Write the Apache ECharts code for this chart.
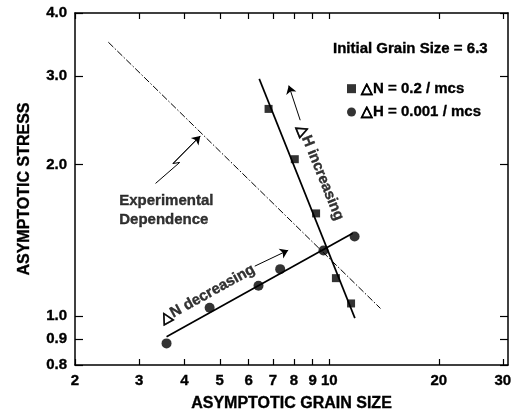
<!DOCTYPE html>
<html>
<head>
<meta charset="utf-8">
<script src="https://cdn.jsdelivr.net/npm/echarts@6/dist/echarts.min.js"></script>
<style>
html,body{margin:0;padding:0;background:#fff;}
#chart{width:520px;height:418px;}
</style>
</head>
<body>
<div id="chart"></div>
<script>
// Tick values on the two logarithmic axes
const grainTicks = [2, 3, 4, 5, 6, 7, 8, 9, 10, 20, 30];
const stressTicks = [0.8, 0.9, 1.0, 2.0, 3.0, 4.0];

// Series names
const squareName = '\u25B3N = 0.2 / mcs';
const circleName = '\u25B3H = 0.001 / mcs';

// Simulation results: [asymptotic grain size, asymptotic stress]
const squarePoints = [[6.81, 2.58], [8.04, 2.05], [9.2, 1.60], [10.43, 1.19], [11.48, 1.06]];
const circlePoints = [[3.57, 0.883], [4.69, 1.039], [6.39, 1.149], [7.33, 1.24], [9.64, 1.35], [11.74, 1.44]];

// Fitted lines through each set of results
const squareFit = [[6.42, 2.96], [11.76, 0.991]];
const circleFit = [[3.57, 0.910], [11.6, 1.461]];

// Experimental dependence
const experimentalLine = [[2.47, 3.50], [13.83, 1.036]];

// Callout pointer (zig-zag) and direction arrows, in data units
const pointerPath = [[3.33, 1.835], [3.88, 2.02], [3.72, 2.01], [4.42, 2.28]];
const hArrow = [[8.32, 2.45], [7.74, 2.87]];
const nArrow = [[6.24, 1.257], [7.71, 1.352]];

// Text notes: anchor, text, rotation
const noteTexts = ['Experimental\nDependence', '\u25B3H increasing', '\u25B3N decreasing'];
const noteAnchors = [[2.646, 1.619], [9.45, 1.93], [4.62, 1.106]];
const noteRotations = [0, -68, 29];
const notePositions = ['right', 'inside', 'inside'];

const headerText = 'Initial Grain Size = 6.3';

const FONT = '"Liberation Sans", Arial, Helvetica, sans-serif';
const boldText = {
  fontFamily: FONT, fontWeight: 'bold', fontSize: 15, color: '#000',
  textBorderColor: '#000', textBorderWidth: 0.35
};
const nameText = Object.assign({}, boldText, { fontSize: 16 });

const chart = echarts.init(document.getElementById('chart'), null, { renderer: 'canvas' });

const xBase = {
  type: 'log', min: 2, max: 31, logBase: 10,
  splitLine: { show: false }, minorTick: { show: false }, minorSplitLine: { show: false },
  axisLine: { show: true, onZero: false, lineStyle: { color: '#000', width: 1.5 } },
  axisTick: { show: true, inside: true, length: 6, customValues: grainTicks, lineStyle: { color: '#000', width: 1.2 } }
};
const yBase = {
  type: 'log', min: 0.8, max: 4.0, logBase: 10,
  splitLine: { show: false }, minorTick: { show: false }, minorSplitLine: { show: false },
  axisLine: { show: true, onZero: false, lineStyle: { color: '#000', width: 1.5 } },
  axisTick: { show: true, inside: true, length: 8, customValues: stressTicks, lineStyle: { color: '#000', width: 1.2 } }
};

const option = {
  animation: false,
  backgroundColor: '#fff',
  title: {
    text: headerText, left: 333, top: 41, padding: 0,
    textStyle: boldText
  },
  legend: {
    orient: 'vertical', left: 347, top: 81, padding: 0,
    itemWidth: 9, itemHeight: 9, itemGap: 8, itemTextGap: 10,
    selectedMode: false,
    textStyle: boldText,
    data: [{ name: squareName, icon: 'rect' }, { name: circleName, icon: 'circle' }]
  },
  grid: { left: 75, right: 12, top: 13, bottom: 53, containLabel: false, outerBoundsMode: 'none' },
  xAxis: [
    Object.assign({}, xBase, {
      position: 'bottom',
      name: 'ASYMPTOTIC GRAIN SIZE', nameLocation: 'middle', nameGap: 31,
      nameTextStyle: nameText,
      axisLabel: Object.assign({
        show: true, margin: 8, customValues: grainTicks,
        formatter: v => String(Math.round(v))
      }, boldText)
    }),
    Object.assign({}, xBase, { position: 'top', axisLabel: { show: false } })
  ],
  yAxis: [
    Object.assign({}, yBase, {
      position: 'left',
      name: 'ASYMPTOTIC STRESS', nameLocation: 'middle', nameGap: 42, nameRotate: 90,
      nameTextStyle: nameText,
      axisLabel: Object.assign({
        show: true, margin: 8, customValues: stressTicks,
        formatter: v => Number(v).toFixed(1)
      }, boldText)
    }),
    Object.assign({}, yBase, { position: 'right', axisLabel: { show: false } })
  ],
  series: [
    {
      name: 'Experimental', type: 'line', data: experimentalLine,
      showSymbol: false, symbol: 'none', silent: true,
      lineStyle: { color: '#000', width: 1, type: [7, 2, 1.5, 2] },
      emphasis: { disabled: true }, z: 1
    },
    {
      name: 'squareFit', type: 'line', data: squareFit,
      showSymbol: false, symbol: 'none', silent: true,
      lineStyle: { color: '#000', width: 1.7 },
      emphasis: { disabled: true }, z: 2
    },
    {
      name: 'circleFit', type: 'line', data: circleFit,
      showSymbol: false, symbol: 'none', silent: true,
      lineStyle: { color: '#000', width: 1.7 },
      emphasis: { disabled: true }, z: 2
    },
    {
      name: 'pointer', type: 'line', data: pointerPath,
      showSymbol: false, symbol: 'none', silent: true,
      lineStyle: { color: '#000', width: 1 },
      emphasis: { disabled: true }, z: 2,
      markLine: {
        silent: true, symbol: ['none', 'arrow'], symbolSize: 8,
        label: { show: false }, emphasis: { disabled: true },
        itemStyle: { color: '#000' },
        lineStyle: { color: '#000', width: 1, type: 'solid' },
        data: [
          [{ coord: pointerPath[2] }, { coord: pointerPath[3] }],
          [{ coord: hArrow[0] }, { coord: hArrow[1] }],
          [{ coord: nArrow[0] }, { coord: nArrow[1] }]
        ]
      }
    },
    {
      name: squareName, type: 'scatter', data: squarePoints,
      symbol: 'rect', symbolSize: 8,
      itemStyle: { color: '#000' }, emphasis: { disabled: true }, z: 3
    },
    {
      name: circleName, type: 'scatter', data: circlePoints,
      symbol: 'circle', symbolSize: 10,
      itemStyle: { color: '#000' }, emphasis: { disabled: true }, z: 3
    },
    {
      name: 'notes', type: 'scatter', silent: true, symbolSize: 0,
      emphasis: { disabled: true }, z: 4,
      data: noteAnchors.map((p, i) => ({
        value: p,
        label: Object.assign({
          show: true, formatter: noteTexts[i], rotate: noteRotations[i],
          position: notePositions[i], distance: 0,
          align: notePositions[i] === 'right' ? 'left' : 'center',
          lineHeight: 19
        }, boldText)
      }))
    }
  ]
};

chart.setOption(option);
</script>
</body>
</html>
